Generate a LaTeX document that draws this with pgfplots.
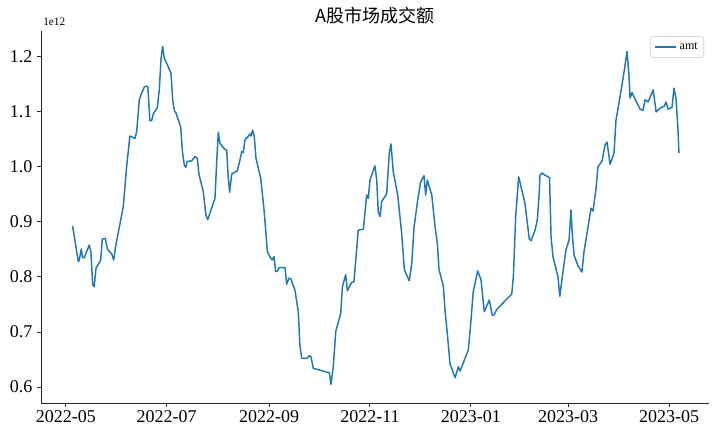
\documentclass[border=0pt]{standalone}
\usepackage{pgfplots}
\pgfplotsset{compat=1.18}
\usepackage{fontspec}
\setmainfont{Liberation Serif}
\newfontfamily\cjk{Noto Sans CJK SC}
\definecolor{mplblue}{RGB}{31,119,180}

% day = days since 2022-05-01, amt in units of 1e12
\pgfplotstableread{
day amt
4 0.893
7.5 0.828
8 0.830
9.3 0.851
10.1 0.835
11.1 0.835
14.1 0.858
15.1 0.846
16.2 0.786
17.1 0.782
18.2 0.816
21.0 0.830
22.0 0.869
23.8 0.870
25.2 0.850
27.7 0.842
28.9 0.831
30.1 0.856
34.7 0.928
36.7 1.000
38.7 1.056
41.8 1.052
42.8 1.064
44.4 1.122
45.4 1.131
47.4 1.145
48.8 1.147
49.6 1.145
50.8 1.084
51.9 1.084
52.8 1.096
55.3 1.108
56.5 1.140
57.5 1.195
58.5 1.219
59.5 1.198
61.9 1.182
63.6 1.170
64.6 1.122
65.6 1.102
66.6 1.098
69.4 1.073
70.6 1.025
71.6 1.004
72.5 0.999
73.4 1.010
76.1 1.011
78.1 1.019
79.5 1.016
80.5 0.987
83.1 0.955
84.7 0.913
85.8 0.904
87.8 0.922
90.2 0.943
91.2 1.007
92.2 1.063
93.2 1.043
95.8 1.033
97.3 1.030
98.2 0.982
99.1 0.954
100.3 0.987
103.7 0.993
104.9 1.007
106.4 1.028
107.3 1.026
108.4 1.050
110.4 1.056
111.4 1.060
112.0 1.056
113.0 1.067
114.0 1.055
115.0 1.016
117.9 0.979
119.9 0.922
121.9 0.846
123.9 0.834
124.9 0.831
125.9 0.837
126.9 0.810
127.9 0.810
129.1 0.817
132.6 0.817
133.6 0.787
135.0 0.798
136.2 0.796
138.6 0.776
140.6 0.737
141.6 0.676
142.7 0.652
145.7 0.652
147.3 0.657
148.3 0.655
149.7 0.634
159.4 0.626
160.4 0.605
161.8 0.637
163.3 0.701
166.3 0.734
167.3 0.782
169.3 0.804
170.3 0.775
172.9 0.790
174.3 0.791
176.9 0.885
180.0 0.887
182.0 0.949
183.0 0.943
184.0 0.976
187.0 1.002
188.1 0.976
189.0 0.919
190.1 0.910
191.1 0.937
194.1 0.951
195.7 1.025
196.7 1.042
198.1 0.991
200.8 0.949
203.2 0.879
204.8 0.813
207.8 0.793
209.3 0.825
210.7 0.891
212.9 0.940
214.7 0.973
216.7 0.984
217.7 0.949
218.7 0.976
221.4 0.949
223.4 0.891
224.8 0.861
225.8 0.813
228.4 0.784
229.4 0.740
230.8 0.698
232.4 0.643
235.5 0.617
237.5 0.637
238.5 0.629
241.5 0.652
243.5 0.667
245.0 0.716
246.5 0.773
249.2 0.811
251.2 0.795
253.2 0.737
256.2 0.758
258.1 0.730
259.1 0.731
260.7 0.741
269.8 0.769
270.8 0.801
272.2 0.910
274.0 0.982
277.8 0.934
280.4 0.869
281.5 0.866
283.9 0.885
285.3 0.904
286.3 0.946
286.9 0.985
288.1 0.989
289.9 0.985
291.8 0.982
292.7 0.980
293.6 0.873
294.8 0.836
297.8 0.800
298.9 0.765
300.8 0.809
302.6 0.849
304.5 0.867
305.7 0.922
306.3 0.885
307.5 0.840
309.9 0.820
312.3 0.809
313.5 0.845
315.4 0.880
317.8 0.925
319.0 0.920
320.8 0.960
322.0 1.000
324.5 1.011
326.3 1.040
327.5 1.045
329.3 1.005
331.7 1.025
332.9 1.085
334.7 1.116
336.6 1.150
338.4 1.185
339.6 1.210
340.8 1.165
341.4 1.125
342.6 1.135
345.0 1.120
347.5 1.105
349.3 1.103
350.5 1.122
352.3 1.118
354.7 1.135
355.4 1.140
357.2 1.100
359.6 1.107
362.0 1.110
363.2 1.118
364.4 1.105
366.8 1.108
368.0 1.143
369.2 1.125
370.4 1.070
371.0 1.025
}\amttable

\begin{document}
\begin{tikzpicture}
\begin{axis}[
  scale only axis,
  width=501pt, height=279pt,
  xmin=-15.1, xmax=389.2,
  ymin=0.571, ymax=1.247,
  axis x line*=bottom, axis y line*=left,
  axis line style={black!85, line width=0.75pt},
  tick align=outside, major tick length=3pt,
  tick style={black!85, line width=0.75pt},
  xtick={0,61,123,184,245,304,365},
  xticklabels={2022-05,2022-07,2022-09,2022-11,2023-01,2023-03,2023-05},
  ytick={0.6,0.7,0.8,0.9,1.0,1.1,1.2},
  yticklabels={0.6,0.7,0.8,0.9,1.0,1.1,1.2},
  ticklabel style={font=\fontsize{13.5}{15}\selectfont},
  xticklabel style={yshift=1pt},
  title={\cjk A股市场成交额},
  title style={font=\fontsize{13.5}{15}\selectfont, at={(0.5,1)}, anchor=base, yshift=0pt},
  clip=false,
  legend style={at={(1,1)}, anchor=north east, xshift=-3.75pt, yshift=-4pt,
    draw=black!20, rounded corners=1.5pt, font=\fontsize{9}{10}\selectfont,
    inner xsep=2.5pt, inner ysep=2.5pt},
  legend image code/.code={\draw[mplblue, line width=1.5pt] (0pt,0pt) -- (16pt,0pt);},
]
\addplot[mplblue, line width=1.1pt, line join=round] table[x=day, y=amt] {\amttable};
\addlegendentry{amt}
\node[anchor=base west, inner sep=0pt, font=\fontsize{8.5}{10}\selectfont]
  at ([xshift=1.5pt, yshift=4pt]rel axis cs:0,1) {1e12};
\end{axis}
\pgfresetboundingbox
\path ([shift={(-30.75pt,-21.75pt)}]current axis.south west) rectangle ++(540pt,324pt);
\end{tikzpicture}
\end{document}
